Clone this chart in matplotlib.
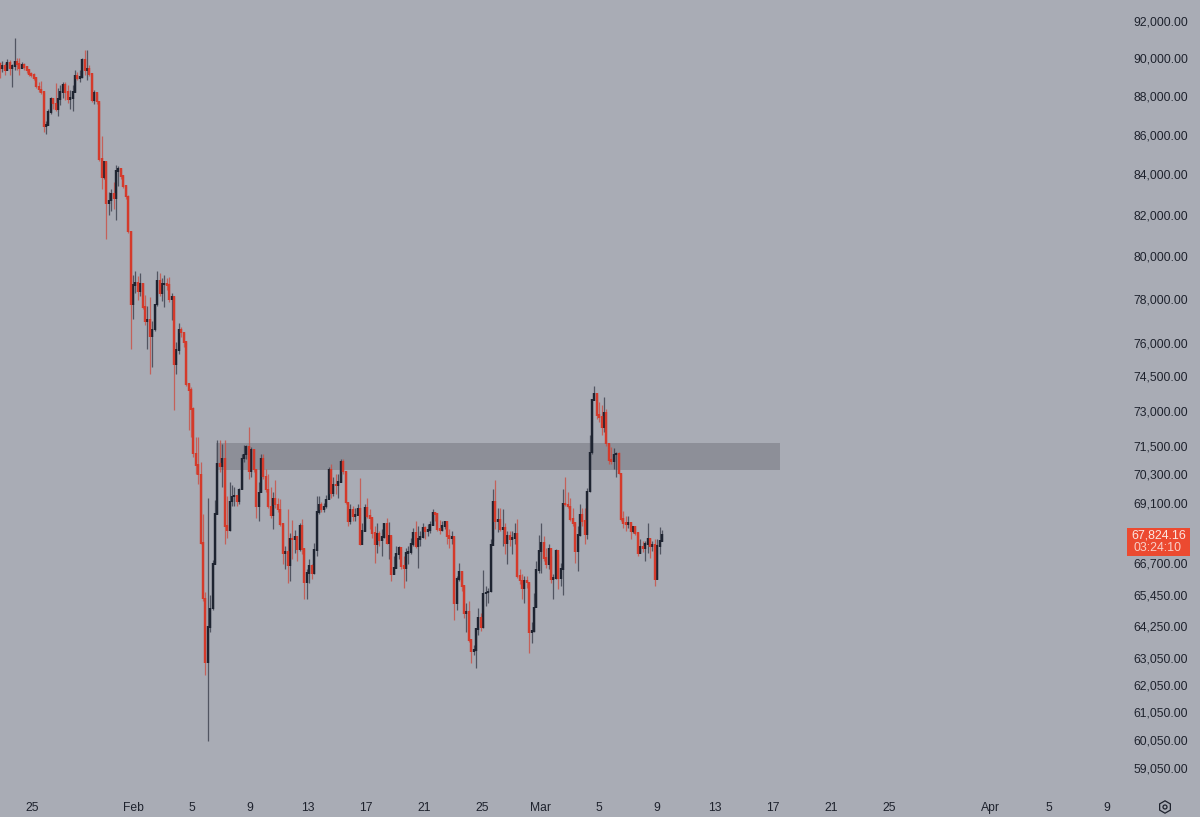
import numpy as np
import matplotlib
matplotlib.use("Agg")
import matplotlib.pyplot as plt
from matplotlib.patches import Rectangle, RegularPolygon, Circle
from matplotlib.transforms import IdentityTransform

plt.rcParams['font.family'] = ['Liberation Sans', 'DejaVu Sans']

first_open = 89690
closes = [
89480,89580,89370,89740,89480,89580,89790,89690,89480,89640,89530,89370,89160,89110,88950,88490,88330,88220,86430,86490,
87150,87850,87600,87300,87850,88220,88590,88220,87850,87900,88220,89060,88950,89000,89900,89370,89420,89160,87800,88170,
87700,84770,83880,84620,82550,82700,83040,82800,84170,84270,83920,83430,82900,81200,77750,78670,78760,78390,78710,77650,
77010,77060,76300,76610,77750,78850,78300,78710,78720,78670,77980,78120,75040,75670,76610,76470,76030,74160,73900,73080,
71170,70700,70290,67490,65300,62890,64200,64920,66660,68650,70750,70620,70960,68170,68010,69170,69380,69420,69170,69670,
70960,71130,71460,70410,71330,70500,68970,69540,70960,70200,69670,68970,68610,69300,69050,68850,68250,67090,67130,66620,
67650,67640,67730,67250,68170,67250,65920,66310,66580,66310,67210,68730,69050,68850,68970,69260,70500,69500,69870,69830,
69990,70830,70410,69130,68370,68850,68570,68610,68890,67450,67970,68930,68570,68490,67890,67450,67850,67610,67730,68250,
67490,67770,66270,66500,67050,67290,66580,66500,67090,67130,67450,67890,67370,67650,67730,68090,67970,68010,68210,68690,
68650,68050,68010,68170,68330,67770,67690,67730,65110,66070,66350,65800,64730,64770,63710,63300,63340,64120,64570,64200,
65500,65540,65570,67410,69170,68370,68410,68050,68090,67490,67770,67650,67690,67850,66190,66000,65690,66000,65920,64010,
64050,64960,66420,67170,67490,66890,66660,67250,66070,66110,67170,66110,66460,69090,69050,68970,68450,68290,67170,67810,
68610,68370,67850,69580,71210,73470,73730,72820,72730,72300,72900,71590,70910,70830,71130,71170,70330,68450,68290,68250,
68290,67970,68130,67890,67090,67330,67290,67450,67650,67370,67410,66070,67370,67570,67824,
]
highs = [
89790,89850,89740,89950,89900,89690,91080,90000,90000,89790,89740,89580,89320,89270,89220,88950,88740,88800,88220,86700,
87300,87950,87900,88690,88430,88590,88740,88740,88590,88330,88590,89370,89270,89370,90000,90430,90430,89640,89160,88330,
88170,87700,85920,84670,84620,83130,83280,83620,84470,84420,84270,83920,83430,82950,81200,79130,79320,79080,79220,78760,
78210,77700,78120,77010,77790,79320,79220,78990,79130,78990,79040,78300,78120,76030,76920,76700,76470,76030,74160,74030,
73160,71880,71880,70830,68650,65570,69300,65420,66810,69220,71750,71750,71580,71750,69380,69990,69870,69790,69380,69710,
71130,71540,71540,72300,71460,71370,70540,69990,71130,71130,70540,70290,69790,69580,70080,69300,69260,68250,67370,68850,
67890,68410,68010,67650,68290,68450,67250,66460,66850,66660,67490,69380,69380,69170,69130,69460,70620,70750,70200,70290,
70290,70960,70960,70410,69130,69090,68970,68890,69090,70160,68290,69050,69300,68850,68490,68170,68290,67970,68050,68290,
68490,68330,67770,66970,67370,67370,67250,66970,67290,67370,67690,68090,68370,68170,67970,68290,68170,68250,68370,68850,
68730,68690,68410,68370,68370,68250,68050,67970,67730,66190,66700,66390,65800,65110,65220,63710,63520,64160,64920,64730,
66420,65800,65720,67650,69670,70080,68890,68890,68850,68290,67970,67970,67970,68290,68450,66460,66270,66190,66190,65920,
64380,65500,66780,67810,68290,67770,67290,67450,66970,66270,67250,67050,66700,69670,70200,69580,69300,68890,68290,68170,
69050,68890,68890,69710,71960,73510,74060,73730,73380,73250,73600,73080,71590,71460,71420,71250,71250,70330,68770,68570,
68570,68250,68170,68170,67890,67650,67570,67570,68290,67690,67570,67650,67650,68130,68000,
]
lows = [
88950,89270,89110,89480,89110,88490,89370,89370,89110,89480,89370,89220,89060,89000,88850,88430,88220,88120,86130,86030,
86490,87050,87300,87200,86950,87550,87900,87800,87650,87300,87200,88220,88850,88740,88950,89110,88850,89060,87700,87600,
87600,84670,83280,83780,80830,81970,82210,82310,81730,83430,83780,83330,82800,81110,75710,77100,78300,77980,78160,77560,
76790,75710,74600,74910,76560,77700,78160,77930,77650,78440,77890,77060,73030,74600,75490,76250,75800,74070,72170,71880,
71040,70290,69910,67450,65220,62410,60000,64010,64840,66700,68650,70410,69790,67450,67690,67970,68970,68970,68970,69050,
69670,70830,70960,70120,70200,70410,68490,68370,69580,70120,69580,68890,68490,68050,68890,68730,68170,66660,66460,65920,
65990,66850,67090,66780,67170,67050,65270,65300,65920,66070,66270,66970,68650,68730,68730,68890,69380,69300,69380,69500,
69300,69990,70290,69050,68170,68250,68370,68370,68650,67410,67610,67970,68490,68050,67690,66700,67090,67370,66970,67690,
67450,66850,65990,66270,66500,66850,66460,65720,65990,66660,67050,67370,67290,66500,67370,67690,67650,67770,67890,68210,
68370,67970,67850,67970,68050,67450,67290,67450,64460,64840,65990,65610,64570,64010,63630,62850,63150,62670,63900,64050,
64160,65030,65110,65540,67570,68050,67930,67970,67370,67050,66660,67370,67050,67450,66110,65880,65300,65110,65720,63220,
63600,64010,64960,66310,66310,66780,66500,66460,65920,65300,66070,65690,65800,65420,68970,68890,68370,68170,66700,66390,
67770,68170,67450,67650,69580,71130,73470,72640,72510,71960,72090,71500,70750,70750,70500,70200,70290,68370,68090,67970,
68090,67650,67890,67810,66970,67090,67130,66780,67090,66890,67170,65800,66070,67050,67570,
]

y_ticks = [92000,90000,88000,86000,84000,82000,80000,78000,76000,74500,73000,71500,70300,
           69100,66700,65450,64250,63050,62050,61050,60050,59050]
y_labels = [f"{v:,.2f}" for v in y_ticks]
x_tick_days = [-11,-4,0,4,8,12,16,20,24,28,32,36,40,44,48,55,59,63]   # days after 5 Feb
x_labels = ["25","Feb","5","9","13","17","21","25","Mar","5","9","13","17","21","25","Apr","5","9"]

zone_low, zone_high = 70470, 71620
zone_start_day, zone_end_day = 1.65, 40.50
first_day, bar_step_days = -13.22, 0.1664
last_price_text, countdown_text = "67,824.16", "03:24:10"

BG = "#a9acb5"; ZONE = "#8d8f98"; RED = "#d43a2b"; DARK = "#1e2431"
RED_W = "#cc4f43"; DARK_W = "#3b404c"; TEXT = "#1e222d"; TAG = "#ec4a30"

closes, highs, lows = map(np.array, (closes, highs, lows))
opens = np.r_[first_open, closes[:-1]]
days = first_day + np.arange(len(closes)) * bar_step_days

W, H = 1200, 817
PX_PER_DAY = 14.52
fig = plt.figure(figsize=(12, 8.17), dpi=100, facecolor=BG)
ax = fig.add_axes([0, 0, 1, 1], facecolor=BG)
ax.set_yscale("log")
ax.set_xlim(-192/PX_PER_DAY, (W-192)/PX_PER_DAY)
ax.set_ylim(57360, 93154)
for s in ax.spines.values():
    s.set_visible(False)

ax.fill_between([zone_start_day, zone_end_day], zone_low, zone_high, color=ZONE, lw=0, zorder=1)

up = closes >= opens
px = 0.72
for mask, wc, bc in ((up, DARK_W, DARK), (~up, RED_W, RED)):
    ax.vlines(days[mask], lows[mask], highs[mask], color=wc, lw=1.25*px, alpha=0.8, zorder=2)
    top = np.maximum(opens, closes)[mask] * 1.0005
    bot = np.minimum(opens, closes)[mask] * 0.9995
    ax.vlines(days[mask], bot, top, color=bc, lw=2.4*px, capstyle="butt", zorder=3)

ax.yaxis.tick_right()
ax.set_yticks(y_ticks, y_labels)
ax.set_yticks([], minor=True)
ax.tick_params(axis="y", which="both", length=0, pad=-48.2, labelsize=8.7, labelcolor=TEXT, labelright=True)
for t in ax.get_yticklabels():
    t.set_ha("left")
ax.set_xticks(x_tick_days, x_labels)
ax.tick_params(axis="x", length=0, pad=-11, labelsize=8.7, labelcolor=TEXT)

def fy(y):
    return H - y

tid = IdentityTransform()
fig.add_artist(Rectangle((1127, fy(556)), 63, 28, transform=tid, fc=TAG, ec="none"))
fig.text(1186/W, 1-535.5/H, last_price_text, ha="right", va="center", color="#fbe6e1", fontsize=8.9)
fig.text(1181.5/W, 1-548/H, countdown_text, ha="right", va="center", color="#f8cfc7", fontsize=8.9)

fig.add_artist(RegularPolygon((1165, fy(807)), 6, radius=6.2, transform=tid, fc="none", ec=TEXT, lw=0.9))
fig.add_artist(Circle((1165, fy(807)), 2, transform=tid, fc="none", ec=TEXT, lw=0.9))

fig.savefig("out.png", dpi=100, facecolor=BG)
